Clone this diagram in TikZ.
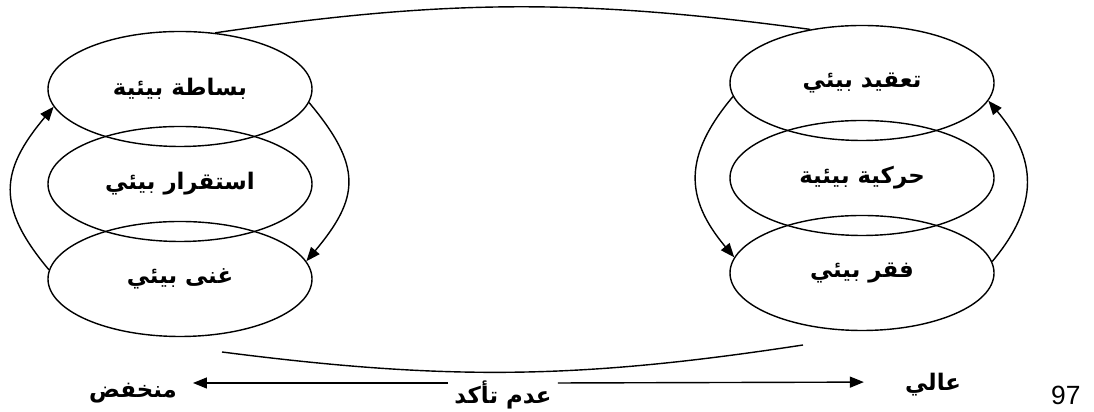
\documentclass[tikz,border=0pt]{standalone}
\usepackage{fontspec}
\usepackage{tikz}
\usetikzlibrary{shapes.geometric,arrows.meta}
\TeXXeTstate=1
\newfontfamily\arabicfont[Script=Arabic]{DejaVu Sans}
\newfontfamily\pagefont{Liberation Sans}

\begin{document}
\begin{tikzpicture}[>={Triangle[length=0.28cm, width=0.22cm]}, node distance=1.9cm]
    \tikzstyle{format} = [draw, thick, ellipse, minimum width=5.28cm,
	minimum height=2.3cm, inner sep=0pt, font=\arabicfont\bfseries\fontsize{13}{15}\selectfont]
    \tikzstyle{txt} = [font=\arabicfont\bfseries\fontsize{13}{15}\selectfont]
	\useasboundingbox (0,0) rectangle (21.88,8.24);
	\begin{scope}
		\path[->, thick]
			node[format] (S) at (3.6,6.46) {\beginR بساطة بيئية\endR}
			node[format, below of=S] (T) {\beginR استقرار بيئي\endR}
			node[format, below of=T] (G) {\beginR غنى بيئي\endR}

			(G.176) edge[out=130, in=230, looseness=1.3] (S.188)
			(S.-6) edge[out=-50, in=50, looseness=1.34] (G.8)
	   ;
	\end{scope}
	\begin{scope}
		\path[->, thick]
			node[format] (C) at (17.24,6.58) {\beginR تعقيد بيئي\endR}
			node[format, below of=C] (D) {\beginR حركية بيئية\endR}
			node[format, below of=D] (P) {\beginR فقر بيئي\endR}

			(C.186) edge[out=230, in=130, looseness=1.23] (P.173)
			(P.5) edge[out=50, in=-50, looseness=1.19] (C.-8)
	   ;
	\end{scope}
	% top and bottom links
	\coordinate (b1) at (4.44,1.2);
	\coordinate (b2) at (16.06,1.34);
	\path[thick]
		(S.58) edge[bend left=8] (C.134)
		(b1) edge[bend right=8] (b2);
	% uncertainty scale
	\node[txt] (low) at (2.66,0.38) {\beginR منخفض\endR};
	\node[txt] (unc) at (10.06,0.34) {\beginR عدم تأكد\endR};
	\node[txt] (high) at (18.66,0.54) {\beginR عالي\endR};
	\path[->, thick]
		([yshift=0.24cm]unc.west) edge[shorten >=0.2cm] ([yshift=0.2cm]low.east)
		([yshift=0.24cm]unc.east) edge[shorten >=0.7cm] ([yshift=0.06cm]high.west);
	\node[anchor=south west, font=\pagefont\fontsize{15}{15}\selectfont] (pg) at (20.9,0.02) {97};
\end{tikzpicture}
\end{document}
